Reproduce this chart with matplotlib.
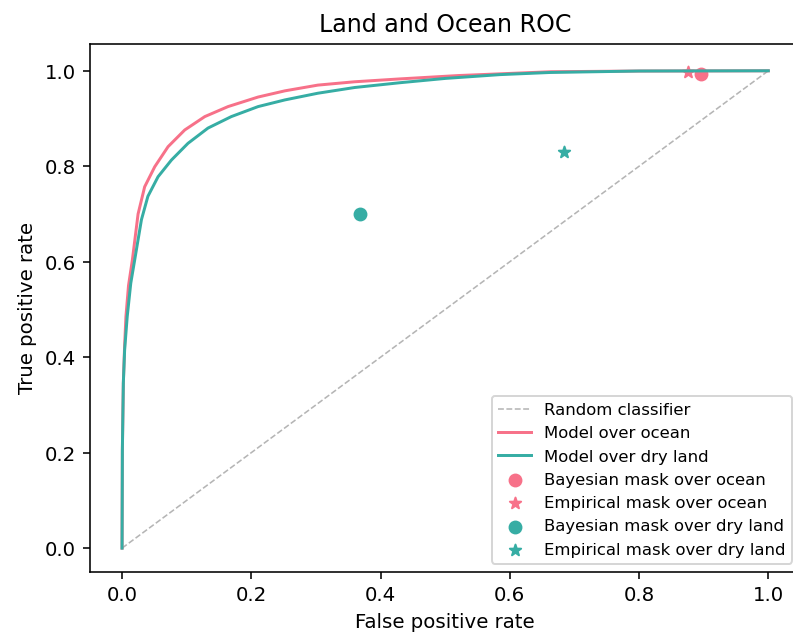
import matplotlib
matplotlib.use("Agg")
import matplotlib.pyplot as plt
import numpy as np

# ROC curve points
fpr_ocean = np.array([0, 0.0005, 0.002, 0.004, 0.006, 0.010, 0.016, 0.0248, 0.035,
                      0.0506, 0.0712, 0.097, 0.128, 0.164, 0.2105, 0.252, 0.303,
                      0.36, 0.43, 0.52, 0.663, 0.8, 1.0])
tpr_ocean = np.array([0, 0.205, 0.346, 0.425, 0.485, 0.550, 0.604, 0.700, 0.757,
                      0.799, 0.841, 0.876, 0.904, 0.925, 0.945, 0.958, 0.970,
                      0.977, 0.983, 0.990, 0.998, 0.9995, 1.0])

fpr_land = np.array([0, 0.0005, 0.002, 0.004, 0.008, 0.0135, 0.0196, 0.030, 0.040,
                     0.0557, 0.0764, 0.102, 0.133, 0.169, 0.2105, 0.252, 0.303,
                     0.36, 0.43, 0.50, 0.585, 0.663, 0.8, 1.0])
tpr_land = np.array([0, 0.205, 0.346, 0.415, 0.485, 0.555, 0.604, 0.688, 0.737,
                     0.778, 0.813, 0.848, 0.880, 0.904, 0.925, 0.939, 0.953,
                     0.965, 0.975, 0.984, 0.992, 0.9965, 0.9995, 1.0])

# mask operating points (fpr, tpr)
bayes_ocean = (0.896, 0.994)
emp_ocean = (0.875, 0.998)
bayes_land = (0.368, 0.700)
emp_land = (0.684, 0.830)

c_ocean = '#f77189'
c_land = '#36ada4'

dpi = 142.5
fig = plt.figure(figsize=(793.4 / dpi, 637.4 / dpi), dpi=dpi)
ax = fig.add_axes([0.1131, 0.102, 0.896, 0.829])

ax.plot([0, 1], [0, 1], ls='--', lw=0.8, color='#b5b5b5', label='Random classifier')
ax.plot(fpr_ocean, tpr_ocean, color=c_ocean, label='Model over ocean')
ax.plot(fpr_land, tpr_land, color=c_land, label='Model over dry land')
ax.scatter(*bayes_ocean, color=c_ocean, marker='o', label='Bayesian mask over ocean')
ax.scatter(*emp_ocean, color=c_ocean, marker='*', label='Empirical mask over ocean')
ax.scatter(*bayes_land, color=c_land, marker='o', label='Bayesian mask over dry land')
ax.scatter(*emp_land, color=c_land, marker='*', label='Empirical mask over dry land')

ax.set_xlim(-0.05, 1.05)
ax.set_ylim(-0.05, 1.057)
ax.set_xticks(np.arange(0, 1.01, 0.2))
ax.set_yticks(np.arange(0, 1.01, 0.2))
ax.spines['right'].set_visible(False)
ax.set_xlabel('False positive rate')
ax.set_ylabel('True positive rate')
ax.set_title('Land and Ocean ROC')
ax.legend(loc='lower right', fontsize='small')

fig.savefig('out.png', dpi=dpi)
